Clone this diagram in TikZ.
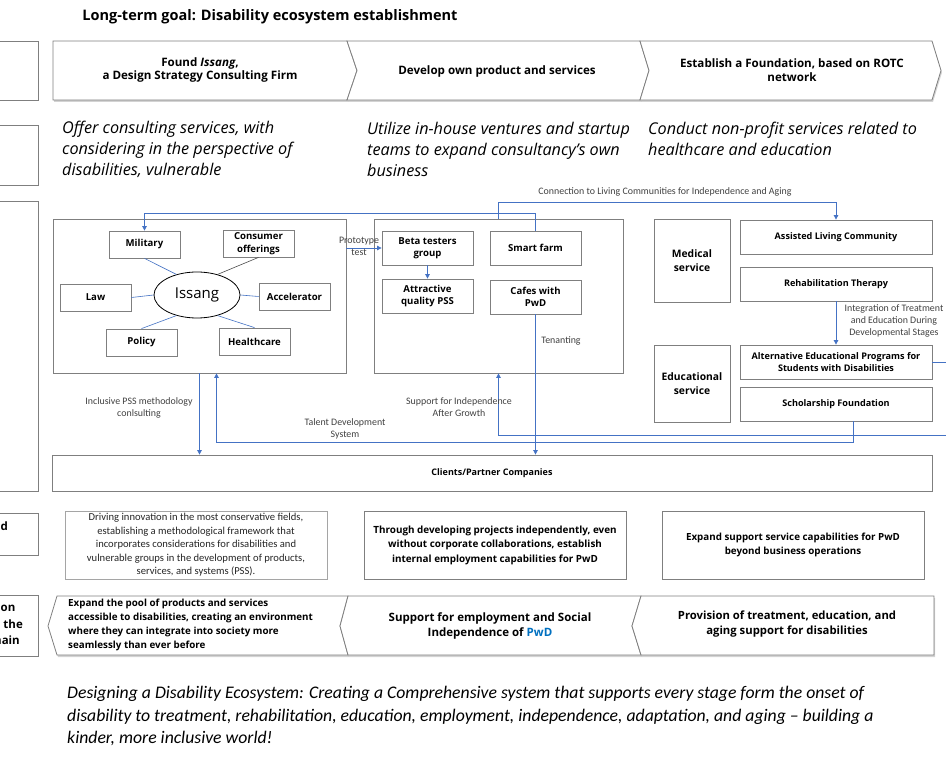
\documentclass[tikz,border=0pt]{standalone}
\usepackage{fontspec}
\setmainfont{Open Sans}
\newfontfamily\calfont{Carlito}
\usetikzlibrary{arrows.meta,shapes.geometric,shadows,calc}
\definecolor{bgray}{RGB}{127,127,127}
\definecolor{lgray}{RGB}{165,165,165}
\definecolor{cblue}{RGB}{68,114,196}
\definecolor{pwdblue}{RGB}{0,112,192}
\definecolor{lbltext}{RGB}{64,64,64}
\newcommand\rbox[7][]{\node[box, minimum width={#5-#3}, minimum height={#6-#4}, #1] (#2) at ({(#3+#5)/2},{(#4+#6)/2}) {#7};}
\begin{document}
\begin{tikzpicture}[x=1pt,y=-1pt,
  box/.style={draw=bgray, line width=0.8pt, fill=white, inner sep=1pt, align=center, font=\bfseries\fontsize{9.6}{12.5}\selectfont},
  rbx/.style={font=\bfseries\fontsize{9.1}{12.5}\selectfont},
  conn/.style={draw=cblue, line width=0.8pt},
  arr/.style={conn, -{Triangle[length=4.5pt,width=4.5pt]}},
  spoke/.style={draw=cblue, line width=0.6pt},
  lbl/.style={font=\calfont\fontsize{9.9}{12}\selectfont, text=lbltext, align=center, inner sep=0pt},
  chev/.style={draw=bgray, line width=0.8pt, fill=white, drop shadow={shadow xshift=1pt, shadow yshift=-2pt, opacity=0.35}},
  ctext/.style={font=\bfseries\fontsize{11.6}{13.5}\selectfont, align=center, inner sep=0pt},
  itext/.style={font=\itshape\fontsize{16.2}{21}\selectfont, align=left, inner sep=0pt, anchor=west},
  ltext/.style={font=\bfseries\fontsize{11.5}{16.5}\selectfont, inner sep=0pt}
]
\useasboundingbox (0,0) rectangle (946,759);
\clip (0,0) rectangle (946,759);

% title
\node[font=\bfseries\fontsize{14.5}{17}\selectfont] (title) at (270,17) {Long-term goal: Disability ecosystem establishment};

% left cut-off boxes
\rbox{lb1}{-60}{41}{38}{100}{}
\rbox{lb2}{-60}{125}{38}{185}{}
\rbox{lb3}{-60}{201}{38}{491}{}
\rbox{lb4}{-60}{513}{38}{555}{}
\rbox{lb5}{-60}{595}{38}{656}{}
\node[ltext, anchor=west] (lt4) at (0.5,526) {d};
\node[ltext, anchor=west] (lt5a) at (0.5,608) {on};
\node[ltext, anchor=east] (lt5b) at (23,624) {the};
\node[ltext, anchor=east] (lt5c) at (20,640) {main};

% top chevrons
\path[chev] (53,41) -- (347,41) -- (357,70.5) -- (347,100) -- (53,100) -- cycle;
\path[chev] (347,41) -- (640,41) -- (649,70.5) -- (640,100) -- (347,100) -- (357,70.5) -- cycle;
\path[chev] (640,41) -- (932,41) -- (941,70.5) -- (932,100) -- (640,100) -- (649,70.5) -- cycle;
\node[ctext] (c1) at (200,70) {Found \textit{Issang},\\a Design Strategy Consulting Firm};
\node[ctext] (c2) at (497,71) {Develop own product and services};
\node[ctext] (c3) at (792,70) {Establish a Foundation, based on ROTC\\network};

% italic descriptions
\node[itext] (i1) at (62,149) {Offer consulting services, with\\considering in the perspective of\\disabilities, vulnerable};
\node[itext] (i2) at (367,149) {Utilize in-house ventures and startup\\teams to expand consultancy’s own\\business};
\node[itext] (i3) at (648,139) {Conduct non-profit services related to\\healthcare and education};

% Issang cluster
\rbox{issbox}{53}{219}{346}{373}{}
\rbox{mil}{109}{231}{180}{258}{Military}
\rbox{cons}{223}{230}{294}{257}{Consumer\\offerings}
\rbox{law}{60}{284}{131}{311}{Law}
\rbox{acc}{259}{283}{330}{310}{Accelerator}
\rbox{pol}{106}{329}{177}{356}{Policy}
\rbox{hc}{219}{328}{290}{355}{Healthcare}
\node[draw=black, line width=0.8pt, ellipse, fill=white, minimum width=86pt, minimum height=46pt, inner sep=0pt, font=\fontsize{15}{18}\selectfont] (iss) at (197,295) {Issang};
\draw[spoke] (mil.south) -- (iss.135);
\draw[draw=black!70, line width=0.6pt] (cons.south) -- (iss.45);
\draw[spoke] (law.east) -- (iss.west);
\draw[spoke] (acc.west) -- (iss.east);
\draw[spoke] (pol.north) -- (iss.225);
\draw[spoke] (hc.north) -- (iss.-45);

% products cluster
\rbox{prod}{374}{219}{623}{373}{}
\rbox{beta}{382}{231}{473}{265}{Beta testers\\group}
\rbox{smart}{490}{231}{581}{265}{Smart farm}
\rbox{attr}{382}{279}{473}{313}{Attractive\\quality PSS}
\rbox{cafes}{490}{280}{581}{314}{Cafes with\\PwD}

% foundation cluster
\rbox[font=\bfseries\fontsize{10.3}{13.5}\selectfont]{med}{654}{219}{730}{302}{Medical\\service}
\rbox[rbx]{alc}{740}{220}{932}{254}{Assisted Living Community}
\rbox[rbx]{rehab}{740}{267}{932}{301}{Rehabilitation Therapy}
\rbox[font=\bfseries\fontsize{10.3}{13.5}\selectfont]{edu}{654}{345}{730}{422}{Educational\\service}
\rbox[rbx]{alt}{740}{345}{932}{379}{Alternative Educational Programs for\\Students with Disabilities}
\rbox[rbx]{schol}{740}{387}{932}{421}{Scholarship Foundation}

% clients
\rbox[font=\bfseries\fontsize{9}{12}\selectfont]{clients}{52}{455}{932}{491}{Clients/Partner Companies}

% connectors
\coordinate (ytop1) at (0,213);
\coordinate (ytop2) at (0,202);
\coordinate (ytal) at (0,442);
\coordinate (outA) at (950,362);
\coordinate (outB) at (950,435);
\draw[arr] (smart.north) |- (mil.north |- ytop1) -- (mil.north);
\draw[arr] (prod.north) |- (alc.north |- ytop2) -- (alc.north);
\draw[arr] (rehab.south) -- (alt.north);
\draw[conn] (alt.east) -- (outA);
\draw[arr] ([xshift=17pt]schol.south) |- ([xshift=17pt]issbox.south |- ytal) -- ([xshift=17pt]issbox.south);
\draw[arr] (outB) -| (prod.south);
\draw[arr] (cafes.south) -- (cafes.south |- clients.north);
\draw[arr] (issbox.south) -- (issbox.south |- clients.north);
\draw[arr] (beta.west -| issbox.east) -- (beta.west);
\draw[arr] (beta.south) -- (attr.north);

% connector labels
\node[lbl] (lconn) at (665,192) {Connection to Living Communities for Independence and Aging};
\node[lbl] (lproto) at (359,246) {Prototype\\test};
\node[lbl] (linteg) at (894,321) {Integration of Treatment\\and Education During\\Developmental Stages};
\node[lbl] (lten) at (561,341) {Tenanting};
\node[lbl] (lincl) at (139,408) {Inclusive PSS methodology\\conlsulting};
\node[lbl] (lsupp) at (459,407) {Support for Independence\\After Growth};
\node[lbl] (ltal) at (345,429) {Talent Development\\System};

% row 4
\rbox[draw=lgray, font=\calfont\fontsize{10.6}{13.5}\selectfont, text=black!85]{ra}{65}{511}{327}{579}{Driving innovation in the most conservative fields,\\establishing a methodological framework that\\incorporates considerations for disabilities and\\vulnerable groups in the development of products,\\services, and systems (PSS).}
\rbox[font=\bfseries\fontsize{9.9}{14.5}\selectfont]{rb}{364}{511}{626}{579}{Through developing projects independently, even\\without corporate collaborations, establish\\internal employment capabilities for PwD}
\rbox[font=\bfseries\fontsize{9.8}{14.5}\selectfont]{rc}{662}{511}{924}{579}{Expand support service capabilities for PwD\\beyond business operations}

% row 5 chevrons (pointing left)
\path[chev] (48,626) -- (57,596) -- (348,596) -- (340,626) -- (348,655) -- (57,655) -- cycle;
\path[chev] (340,626) -- (348,596) -- (641,596) -- (632,626) -- (641,655) -- (348,655) -- cycle;
\path[chev] (632,626) -- (641,596) -- (934,596) -- (934,655) -- (641,655) -- cycle;
\node[font=\bfseries\fontsize{9.8}{14}\selectfont, align=left, inner sep=0pt, anchor=west] (t1) at (68,624.5) {Expand the pool of products and services\\accessible to disabilities, creating an environment\\where they can integrate into society more\\seamlessly than ever before};
\node[font=\bfseries\fontsize{11.5}{14.5}\selectfont, align=center, inner sep=0pt] (t2) at (490,626) {Support for employment and Social\\Independence of \textcolor{pwdblue}{PwD}};
\node[font=\bfseries\fontsize{11.3}{15}\selectfont, align=center, inner sep=0pt] (t3) at (787,624.5) {Provision of treatment, education, and\\aging support for disabilities};

% bottom statement
\node[font=\calfont\itshape\fontsize{17.7}{22.5}\selectfont, align=left, inner sep=0pt, anchor=west] (bottom) at (67,716) {Designing a Disability Ecosystem: Creating a Comprehensive system that supports every stage form the onset of\\disability to treatment, rehabilitation, education, employment, independence, adaptation, and aging – building a\\kinder, more inclusive world!};
\end{tikzpicture}
\end{document}
